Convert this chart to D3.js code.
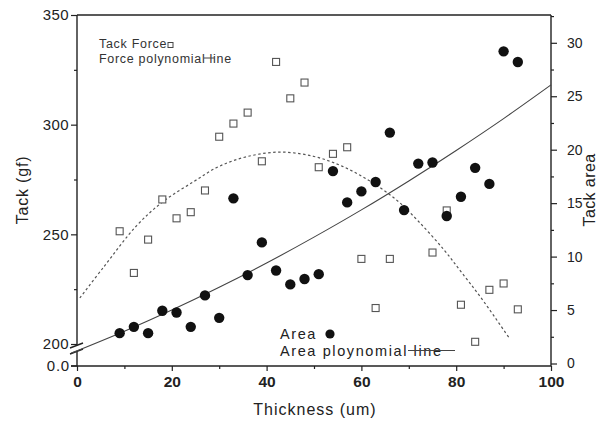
<!DOCTYPE html>
<html>
<head>
<meta charset="utf-8">
<script src="https://cdn.jsdelivr.net/npm/d3@7"></script>
<style>
  html, body { margin: 0; padding: 0; background: #fff; }
  svg { display: block; font-family: "Liberation Sans", Arial, sans-serif; }
</style>
</head>
<body>
<svg id="chart" width="603" height="421"></svg>
<script>
// Sample thickness (um)
const thickness = [9, 12, 15, 18, 21, 24, 27, 30, 33, 36, 39, 42, 45, 48, 51, 54, 57, 60, 63, 66, 69, 72, 75, 78, 81, 84, 87, 90, 93];
// Tack force (gf), left axis; null where no measurement
const tackForce = [251.4, 232.4, 247.6, 265.9, 257.3, 260.1, 270, 294.5, 300.5, 305.5, 283.3, 328.6, 312, 319.2, 280.6, 286.7, 289.7, 238.8, 216.4, 238.8, null, null, 241.7, 260.9, 217.9, 201, 224.7, 227.6, 215.8];
// Tack area, right axis
const tackArea = [2.84, 3.43, 2.84, 4.93, 4.77, 3.43, 6.37, 4.27, 15.45, 8.27, 11.33, 8.7, 7.4, 7.9, 8.36, 18.0, 15.07, 16.1, 16.98, 21.6, 14.35, 18.7, 18.8, 13.8, 15.6, 18.3, 16.8, 29.2, 28.2];

// Polynomial trend lines (thickness, value)
const forceFitX = [0.6, 5.6, 12.6, 18.2, 24.6, 30, 36, 43, 50, 56, 62, 67.5, 72, 77.4, 81, 85.1, 91.1];
const forceFitY = [221, 235, 254, 265, 274, 281, 285.5, 287.5, 285.5, 281, 274, 265.5, 256, 243, 233, 221.5, 203];
const areaFitX = [-1.2, 10, 20, 30, 40, 50, 60, 70, 80, 90, 100];
const areaFitY = [0.97, 3.02, 5.0, 7.13, 9.4, 11.82, 14.37, 17.08, 19.93, 22.91, 26.06];

// Axis ticks
const xTicks = [0, 20, 40, 60, 80, 100];
const xMinor = [10, 30, 50, 70, 90];
const leftTicks = [200, 250, 300, 350];
const leftMinor = [225, 275, 325];
const rightTicks = [0, 5, 10, 15, 20, 25, 30];
const rightMinor = [2.5, 7.5, 12.5, 17.5, 22.5, 27.5, 32.5];

const svg = d3.select("#chart");
const L = 77, R = 551, T = 15, B = 366;

const x = d3.scaleLinear().domain([0, 100]).range([L, R]);
const yL = d3.scaleLinear().domain([200, 350]).range([344, T]);
const yR = d3.scaleLinear().domain([0, 32.6]).range([363.5, T]);

const ink = "#222";
const tickFont = "15px";

function styleAxis(g) {
  g.select(".domain").remove();
  g.selectAll("line").attr("stroke", ink).attr("stroke-width", 1.2);
  g.selectAll("text").attr("fill", ink).attr("font-family", "Liberation Sans, Arial, sans-serif");
}

// X axis
svg.append("g").attr("transform", `translate(0,${B})`)
  .call(d3.axisBottom(x).tickValues(xTicks).tickSize(5).tickPadding(5).tickFormat(d3.format("d")))
  .call(styleAxis)
  .call(g => g.selectAll("text").attr("font-size", "15.5px").attr("font-weight", "bold"));
svg.append("g").attr("transform", `translate(0,${B})`)
  .call(d3.axisBottom(x).tickValues(xMinor).tickSize(3).tickFormat(""))
  .call(styleAxis);

// Left axis
svg.append("g").attr("transform", `translate(${L},0)`)
  .call(d3.axisLeft(yL).tickValues(leftTicks).tickSize(6).tickPadding(2).tickFormat(d3.format("d")))
  .call(styleAxis)
  .call(g => g.selectAll("text").attr("font-size", tickFont).attr("letter-spacing", "0.4px"));
svg.append("g").attr("transform", `translate(${L},0)`)
  .call(d3.axisLeft(yL).tickValues(leftMinor).tickSize(3).tickFormat(""))
  .call(styleAxis);
// zero label below the axis break
svg.append("line").attr("x1", L - 6).attr("x2", L).attr("y1", B).attr("y2", B)
  .attr("stroke", ink).attr("stroke-width", 1.2);
svg.append("text").attr("x", L - 7).attr("y", B).attr("dy", "0.32em")
  .attr("text-anchor", "end").attr("font-size", tickFont).attr("letter-spacing", "0.8px")
  .attr("fill", ink).text("0.0");

// Right axis
svg.append("g").attr("transform", `translate(${R},0)`)
  .call(d3.axisRight(yR).tickValues(rightTicks).tickSize(6).tickPadding(10).tickFormat(d3.format("d")))
  .call(styleAxis)
  .call(g => g.selectAll("text").attr("font-size", "14px"));
svg.append("g").attr("transform", `translate(${R},0)`)
  .call(d3.axisRight(yR).tickValues(rightMinor.filter(v => yR(v) > T)).tickSize(3).tickFormat(""))
  .call(styleAxis);

// Frame
const frame = svg.append("g").attr("stroke", ink).attr("stroke-width", 1.4).attr("fill", "none");
frame.append("line").attr("x1", L).attr("x2", R).attr("y1", T).attr("y2", T);
frame.append("line").attr("x1", R).attr("x2", R).attr("y1", T).attr("y2", B);
frame.append("line").attr("x1", L - 6).attr("x2", R).attr("y1", B).attr("y2", B);
frame.append("line").attr("x1", L).attr("x2", L).attr("y1", T).attr("y2", 345.5);
frame.append("line").attr("x1", L).attr("x2", L).attr("y1", 351.5).attr("y2", B);
// axis break marks
frame.append("line").attr("x1", L - 7).attr("y1", 348).attr("x2", L + 6).attr("y2", 343);
frame.append("line").attr("x1", L - 7).attr("y1", 354).attr("x2", L + 6).attr("y2", 349);

// Trend lines
const forceLine = d3.line().x(d => x(d[0])).y(d => yL(d[1])).curve(d3.curveCatmullRom);
svg.append("path")
  .datum(forceFitX.map((v, i) => [v, forceFitY[i]]))
  .attr("d", forceLine)
  .attr("fill", "none").attr("stroke", "#555").attr("stroke-width", 1.2)
  .attr("stroke-dasharray", "2.5,2.5");

const areaLine = d3.line().x(d => x(d[0])).y(d => yR(d[1])).curve(d3.curveCatmullRom);
svg.append("path")
  .datum(areaFitX.map((v, i) => [v, areaFitY[i]]))
  .attr("d", areaLine)
  .attr("fill", "none").attr("stroke", "#444").attr("stroke-width", 1.1);

// Tack force markers (open squares)
const sq = 7;
svg.append("g").selectAll("rect")
  .data(thickness.map((t, i) => [t, tackForce[i]]).filter(d => d[1] != null))
  .join("rect")
  .attr("x", d => x(d[0]) - sq / 2).attr("y", d => yL(d[1]) - sq / 2)
  .attr("width", sq).attr("height", sq)
  .attr("fill", "#fff").attr("stroke", "#555").attr("stroke-width", 1.1);

// Tack area markers (filled circles)
svg.append("g").selectAll("circle")
  .data(thickness.map((t, i) => [t, tackArea[i]]))
  .join("circle")
  .attr("cx", d => x(d[0])).attr("cy", d => yR(d[1])).attr("r", 5.2)
  .attr("fill", "#111");

// Legends
const legTop = svg.append("g").attr("fill", "#333").attr("font-size", "12.5px").attr("letter-spacing", "0.7px");
legTop.append("text").attr("x", 99).attr("y", 48).text("Tack Force");
legTop.append("rect").attr("x", 168).attr("y", 42.5).attr("width", 5).attr("height", 5)
  .attr("fill", "#fff").attr("stroke", "#444").attr("stroke-width", 1);
legTop.append("text").attr("x", 99).attr("y", 62.5).text("Force polynomial line");
legTop.append("line").attr("x1", 204).attr("x2", 214).attr("y1", 58).attr("y2", 58)
  .attr("stroke", "#444").attr("stroke-width", 1);

const legBot = svg.append("g").attr("fill", "#222").attr("font-size", "14.5px").attr("letter-spacing", "1.6px");
legBot.append("text").attr("x", 280).attr("y", 339).text("Area");
legBot.append("circle").attr("cx", 330).attr("cy", 334).attr("r", 4.6).attr("fill", "#111");
legBot.append("text").attr("x", 280).attr("y", 356).text("Area ploynomial line");
legBot.append("line").attr("x1", 408).attr("x2", 455).attr("y1", 350.5).attr("y2", 350.5)
  .attr("stroke", "#444").attr("stroke-width", 1.1);

// Axis titles
svg.append("text").attr("transform", "translate(22,190) rotate(-90)")
  .attr("text-anchor", "middle").attr("dy", "0.35em")
  .attr("font-size", "16px").attr("letter-spacing", "0.8px").attr("fill", ink).text("Tack (gf)");
svg.append("text").attr("transform", "translate(589,190) rotate(-90)")
  .attr("text-anchor", "middle").attr("dy", "0.35em")
  .attr("font-size", "16px").attr("letter-spacing", "0.4px").attr("fill", ink).text("Tack area");
svg.append("text").attr("x", 315).attr("y", 415)
  .attr("text-anchor", "middle")
  .attr("font-size", "16px").attr("letter-spacing", "1px").attr("fill", ink).text("Thickness (um)");
</script>
</body>
</html>
